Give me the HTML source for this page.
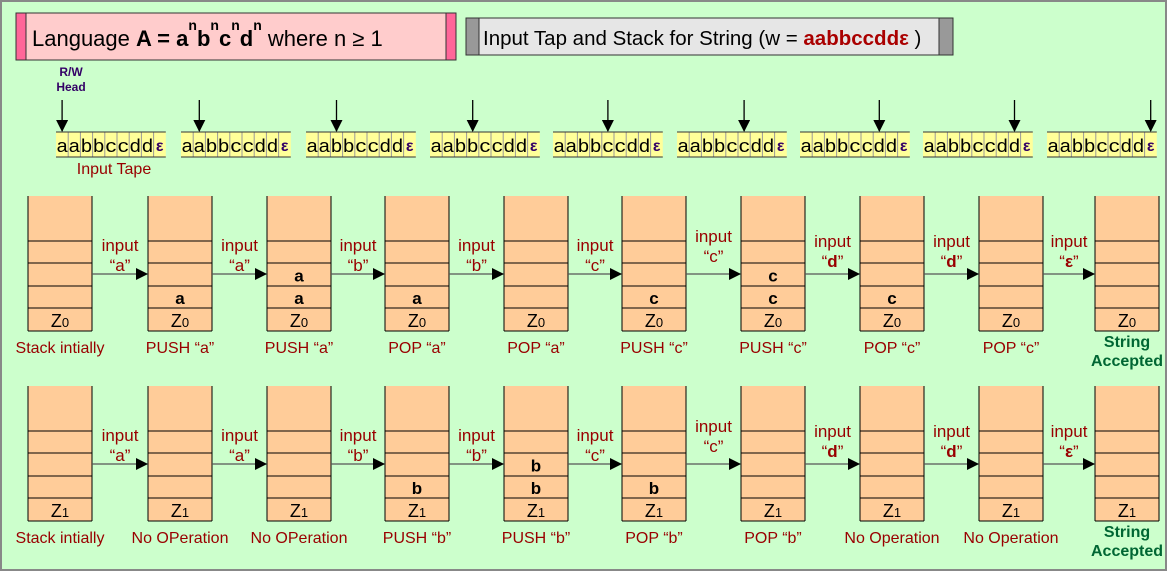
<!DOCTYPE html>
<html><head><meta charset="utf-8"><style>
html,body{margin:0;padding:0;background:#ccffcc;}
svg{display:block;font-family:"Liberation Sans",sans-serif;}
</style></head><body>
<svg id="s" width="1167" height="571" xmlns="http://www.w3.org/2000/svg">
<defs><marker id="ah" markerWidth="12" markerHeight="12" refX="11" refY="6" orient="auto" markerUnits="userSpaceOnUse"><path d="M0,0 L12,6 L0,12 z" fill="#000"/></marker></defs>
<rect x="1" y="1" width="1165" height="569" fill="#ccffcc" stroke="#888" stroke-width="2"/>
<rect x="16" y="13" width="440" height="47" fill="#ffcccc" stroke="#333"/>
<rect x="16" y="13" width="10" height="47" fill="#ff6699" stroke="#333"/>
<rect x="446" y="13" width="10" height="47" fill="#ff6699" stroke="#333"/>
<text x="32" y="46" font-size="22">Language <tspan font-weight="bold">A = a</tspan><tspan font-weight="bold" font-size="14" dy="-16">n</tspan><tspan font-weight="bold" dy="16">b</tspan><tspan font-weight="bold" font-size="14" dy="-16">n</tspan><tspan font-weight="bold" dy="16">c</tspan><tspan font-weight="bold" font-size="14" dy="-16">n</tspan><tspan font-weight="bold" dy="16">d</tspan><tspan font-weight="bold" font-size="14" dy="-16">n</tspan><tspan dy="16"> where n ≥ 1</tspan></text>
<rect x="466" y="18" width="487" height="37" fill="#e6e6e6" stroke="#333"/>
<rect x="466" y="18" width="13" height="37" fill="#999" stroke="#333"/>
<rect x="939" y="18" width="14" height="37" fill="#999" stroke="#333"/>
<text x="483" y="45" font-size="20.5">Input Tap and Stack for String (w = <tspan fill="#aa0000" font-weight="bold">aabbccddε</tspan> )</text>
<text x="71" y="76" font-size="12" font-weight="bold" fill="#330066" text-anchor="middle">R/W</text>
<text x="71" y="91" font-size="12" font-weight="bold" fill="#330066" text-anchor="middle">Head</text>
<text x="114" y="174" font-size="16" fill="#990000" text-anchor="middle">Input Tape</text>
<g id="g"></g>
</svg>
<script>
var g=document.getElementById('g'),h='';
var tx=[56,181,306,430,553,677,800,923,1047],cw=12.2,ch='aabbccdd';
tx.forEach(function(x,i){
 h+='<rect x="'+x+'" y="132" width="'+(cw*9)+'" height="25" fill="#ffff99"/>';
 for(var k=1;k<9;k++)h+='<line x1="'+(x+k*cw)+'" y1="132" x2="'+(x+k*cw)+'" y2="157" stroke="#999"/>';
 h+='<line x1="'+x+'" y1="132" x2="'+(x+9*cw)+'" y2="132" stroke="#333"/><line x1="'+x+'" y1="157" x2="'+(x+9*cw)+'" y2="157" stroke="#333"/>';
 for(var k=0;k<8;k++)h+='<text x="'+(x+k*cw+cw/2)+'" y="152" font-size="18" text-anchor="middle" textLength="11" lengthAdjust="spacingAndGlyphs">'+ch[k]+'</text>';
 h+='<text x="'+(x+8*cw+cw/2)+'" y="151" font-size="16" font-weight="bold" fill="#330066" text-anchor="middle">ε</text>';
 var ax=x+i*cw+cw/2;
 h+='<line x1="'+ax+'" y1="100" x2="'+ax+'" y2="131" stroke="#000" stroke-width="1.3" marker-end="url(#ah)"/>';
});
var sx=[28,148,267,385,504,622,741,860,979,1095];
function row(top,z,cont,labs,ins){
 var L=[top+45,top+67,top+90,top+112,top+135];
 sx.forEach(function(x,i){
  h+='<rect x="'+x+'" y="'+top+'" width="64" height="135" fill="#ffcc99"/>';
  h+='<line x1="'+x+'" y1="'+top+'" x2="'+x+'" y2="'+L[4]+'" stroke="#000"/><line x1="'+(x+64)+'" y1="'+top+'" x2="'+(x+64)+'" y2="'+L[4]+'" stroke="#000"/>';
  L.forEach(function(y){h+='<line x1="'+x+'" y1="'+y+'" x2="'+(x+64)+'" y2="'+y+'" stroke="#000"/>';});
  h+='<text x="'+(x+32)+'" y="'+(top+131)+'" font-size="18" text-anchor="middle">Z<tspan font-size="13">'+z+'</tspan></text>';
  var c=cont[i];
  for(var k=0;k<c.length;k++)h+='<text x="'+(x+32)+'" y="'+(top+108-22.5*k)+'" font-size="17" font-weight="bold" text-anchor="middle">'+c[k]+'</text>';
  var lb=labs[i];
  if(lb.acc){h+='<text x="'+(x+32)+'" y="'+(top+151)+'" font-size="16" font-weight="bold" fill="#006633" text-anchor="middle">String</text><text x="'+(x+32)+'" y="'+(top+170)+'" font-size="16" font-weight="bold" fill="#006633" text-anchor="middle">Accepted</text>';}
  else h+='<text x="'+(x+32)+'" y="'+(top+157)+'" font-size="16" fill="#990000" text-anchor="middle">'+lb+'</text>';
  if(i<9){
   var ay=top+78,x1=x+64,x2=sx[i+1];
   h+='<line x1="'+x1+'" y1="'+ay+'" x2="'+(x2-1)+'" y2="'+ay+'" stroke="#555" stroke-width="1.3" marker-end="url(#ah)"/>';
   var mx=(x1+x2)/2, up=(i==5)?9:(i==6||i==7||i==8)?4:0;
   var q=ins[i],b=(q=='d'||q=='ε');
   h+='<text x="'+mx+'" y="'+(top+55-up)+'" font-size="17" fill="#990000" text-anchor="middle">input</text>';
   h+='<text x="'+mx+'" y="'+(top+75-up)+'" font-size="17" fill="#990000" text-anchor="middle">“<tspan'+(b?' font-weight="bold"':'')+'>'+q+'</tspan>”</text>';
  }
 });
}
row(196,0,['','a','aa','a','','c','cc','c','',''],['Stack intially','PUSH “a”','PUSH “a”','POP “a”','POP “a”','PUSH “c”','PUSH “c”','POP “c”','POP “c”',{acc:1}],['a','a','b','b','c','c','d','d','ε']);
row(386,1,['','','','b','bb','b','','','',''],['Stack intially','No OPeration','No OPeration','PUSH “b”','PUSH “b”','POP “b”','POP “b”','No Operation','No Operation',{acc:1}],['a','a','b','b','c','c','d','d','ε']);
g.innerHTML=h;
</script>
</body></html>
